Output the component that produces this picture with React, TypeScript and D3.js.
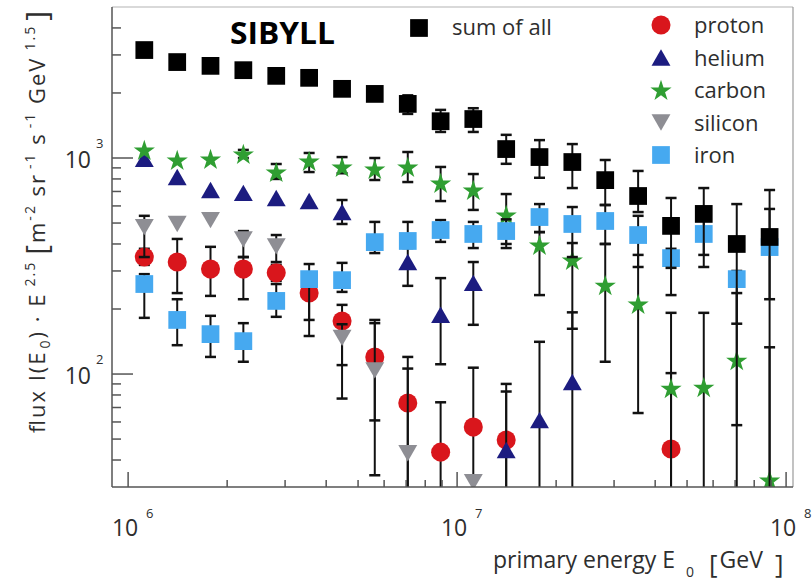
import React from 'react';
import * as d3 from 'd3';

// bin centres (GeV), lg E = 6.05 ... 7.95
const energy = [
  1.12e6, 1.41e6, 1.78e6, 2.24e6, 2.82e6, 3.55e6, 4.47e6, 5.62e6, 7.08e6, 8.91e6,
  1.12e7, 1.41e7, 1.78e7, 2.24e7, 2.82e7, 3.55e7, 4.47e7, 5.62e7, 7.08e7, 8.91e7,
];

// flux * E^2.5; null = no point shown
const proton = [348, 330, 306, 306, 294, 237, 176, 120, 73.4, 43.5, 56.8, 49.5, null, null, null, null, 45, null, null, null];
const protonLo = [320, 237, 230, 222, 270, 150, 110, 61, 20, 20, 20, 20, null, null, null, null, 20, null, null, null];
const protonHi = [380, 422, 388, 348, 320, 262, 209, 172, 106, 74, 107, 83, null, null, null, null, 101, null, null, null];

const helium = [990, 817, 711, 689, 653, 632, 562, null, 330, 188, 264, 44.5, 61.2, 91.8, null, null, null, null, null, null];
const heliumLo = [null, null, null, null, null, null, 495, null, 256, 111, 169, 20, 20, 20, null, null, null, null, null, null];
const heliumHi = [null, null, null, null, null, null, 639, null, 400, 278, 330, 90, 141, 193, null, null, null, null, null, null];

const carbon = [1089, 979, 989, 1044, 861, 969, 909, 889, 909, 766, 711, 545, 396, 337, 258, 211, 86, 87, 116, 32.3];
const carbonLo = [null, null, null, 1000, 800, 861, 850, 791, 774, 632, 575, 383, 232, 162, 114, 66, 20, 20, 58, 20];
const carbonHi = [null, null, null, 1090, 938, 1055, 1010, 1000, 1066, 909, 843, 681, 454, 404, 400, 356, 192, 192, 237, 133];

const silicon = [479, 495, 516, 420, 390, null, 147, 104, 43, null, 31.6, null, null, null, null, null, null, null, null, null];
const siliconLo = [348, null, null, 348, 330, null, 77, 34, 20, null, null, null, null, null, null, null, null, null, null, null];
const siliconHi = [540, null, null, 459, 440, null, 170, 178, 120, null, null, null, null, null, null, null, null, null, null, null];

const iron = [261, 178, 153, 142, 218, 275, 272, 408, 413, 464, 445, 459, 533, 495, 511, 440, 344, 445, 275, 387];
const ironLo = [182, 136, 120, 114, 184, 178, 240, 363, 383, 409, 383, 400, 454, 348, 400, 313, 232, 356, 171, 222];
const ironHi = [290, 222, 186, 172, 261, 323, 327, 506, 506, 516, 506, 520, 612, 593, 606, 540, 380, 540, 300, 581];

const sumOfAll = [3160, 2780, 2670, 2550, 2400, 2350, 2090, 1980, 1780, 1480, 1515, 1100, 1010, 958, 790, 667, 485, 551, 400, 431];
const sumLo = [null, null, null, null, null, null, null, null, 1600, 1320, 1320, 940, 810, 726, 606, 562, 310, 313, 20, 20];
const sumHi = [null, null, null, null, null, null, null, null, 1950, 1670, 1700, 1280, 1210, 1160, 979, 871, 653, 726, 612, 711];

const elementNames = ['proton', 'helium', 'carbon', 'silicon', 'iron'];
const sumName = 'sum of all';
const modelName = 'SIBYLL';

const width = 812;
const height = 581;
const plot = { left: 112, right: 793, top: 7, bottom: 487 };

const x = d3.scaleLog().domain([10 ** 5.951, 10 ** 8.021]).range([plot.left, plot.right]);
const y = d3.scaleLog().domain([30, 5000]).range([plot.bottom, plot.top]);

const font = "'Open Sans', 'DejaVu Sans', sans-serif";
const ink = '#2e2e2e';

const markers = {
  circle: { type: d3.symbolCircle, size: 285, rotate: 0, dy: 0 },
  triangle: { type: d3.symbolTriangle, size: 155, rotate: 0, dy: 2.7 },
  star: { type: d3.symbolStar, size: 140, rotate: 0, dy: 1 },
  triangleDown: { type: d3.symbolTriangle, size: 155, rotate: 180, dy: -2.7 },
  square: { type: d3.symbolSquare, size: 315, rotate: 0, dy: 0 },
};

const series = [
  { name: elementNames[0], color: '#d9161c', marker: 'circle', values: proton, lo: protonLo, hi: protonHi },
  { name: elementNames[1], color: '#1c1c80', marker: 'triangle', values: helium, lo: heliumLo, hi: heliumHi },
  { name: elementNames[2], color: '#2f9e32', marker: 'star', values: carbon, lo: carbonLo, hi: carbonHi },
  { name: elementNames[3], color: '#8e8e94', marker: 'triangleDown', values: silicon, lo: siliconLo, hi: siliconHi },
  { name: elementNames[4], color: '#46a9f0', marker: 'square', values: iron, lo: ironLo, hi: ironHi },
];
const sumSeries = { name: sumName, color: '#000000', marker: 'square', values: sumOfAll, lo: sumLo, hi: sumHi };

function Marker({ kind, color, cx, cy }) {
  const m = markers[kind];
  const d = d3.symbol().type(m.type).size(m.size)();
  return (
    <path
      d={d}
      fill={color}
      transform={`translate(${cx},${cy + m.dy}) rotate(${m.rotate})`}
    />
  );
}

function Series({ s }) {
  const cap = 5.5;
  return (
    <g>
      {s.values.map((v, i) => {
        if (v == null || s.lo[i] == null) return null;
        const cx = x(energy[i]);
        const y0 = y(s.lo[i]);
        const y1 = y(s.hi[i]);
        return (
          <g key={i} stroke="#111" fill="none">
            <line x1={cx} x2={cx} y1={y0} y2={y1} strokeWidth={2} />
            <line x1={cx - cap} x2={cx + cap} y1={y0} y2={y0} strokeWidth={2.5} />
            <line x1={cx - cap} x2={cx + cap} y1={y1} y2={y1} strokeWidth={2.5} />
          </g>
        );
      })}
      {s.values.map((v, i) =>
        v == null ? null : (
          <Marker key={i} kind={s.marker} color={s.color} cx={x(energy[i])} cy={y(v)} />
        ),
      )}
    </g>
  );
}

const isDecade = (t) => Math.abs(Math.log10(t) - Math.round(Math.log10(t))) < 1e-6;

export default function App() {
  const xTicks = x.ticks().filter((t) => x(t) - plot.left > 3 && plot.right - x(t) > 3);
  const yTicks = y.ticks().filter((t) => plot.bottom - y(t) > 3 && y(t) - plot.top > 3);

  return (
    <div style={{ position: 'absolute', left: 0, top: 0 }}>
      <svg width={width} height={height} style={{ display: 'block', background: '#fff' }}>
        <defs>
          <clipPath id="plot-area">
            <rect x={plot.left} y={plot.top} width={plot.right - plot.left} height={plot.bottom - plot.top} />
          </clipPath>
        </defs>

        {/* frame */}
        <line x1={plot.left} x2={plot.right} y1={plot.top} y2={plot.top} stroke="#b4b4b4" strokeWidth={1.2} />
        <line x1={plot.right} x2={plot.right} y1={plot.top} y2={plot.bottom} stroke="#9a9a9a" strokeWidth={1.2} />

        {/* data */}
        <g clipPath="url(#plot-area)">
          {series.map((s) => (
            <Series key={s.name} s={s} />
          ))}
          <Series s={sumSeries} />
        </g>

        {/* axes */}
        <g stroke="#555" strokeWidth={1.5}>
          <line x1={plot.left} x2={plot.right} y1={plot.bottom} y2={plot.bottom} />
          <line x1={plot.left} x2={plot.left} y1={plot.top} y2={plot.bottom} />
          {xTicks.map((t) => (
            <line key={t} x1={x(t)} x2={x(t)} y1={plot.bottom} y2={plot.bottom - (isDecade(t) ? 15 : 7)} />
          ))}
          {yTicks.map((t) => (
            <line key={t} x1={plot.left} x2={plot.left + (isDecade(t) ? 21 : 9)} y1={y(t)} y2={y(t)} />
          ))}
        </g>

        {/* tick labels */}
        <g fontFamily={font} fill={ink}>
          {xTicks.filter(isDecade).map((t) => (
            <g key={t}>
              <text x={x(t) - 3} y={536} fontSize={23} textAnchor="middle">10</text>
              <text x={x(t) + 18} y={518} fontSize={13}>{Math.round(Math.log10(t))}</text>
            </g>
          ))}
          {yTicks.filter(isDecade).map((t) => (
            <g key={t}>
              <text x={91} y={y(t) + 10} fontSize={23} textAnchor="end">10</text>
              <text x={96} y={y(t) - 10} fontSize={13}>{Math.round(Math.log10(t))}</text>
            </g>
          ))}
        </g>

        {/* x axis title */}
        <g fontFamily={font} fill={ink}>
          <text x={493} y={568} fontSize={23} textLength={182} lengthAdjust="spacing">primary energy E</text>
          <text x={686} y={577} fontSize={14}>0</text>
          <text x={709} y={568} fontSize={23}>
            <tspan fontSize={26} dy={5}>[</tspan>
            <tspan dx={2} dy={-5}>GeV</tspan>
            <tspan dx={12} dy={5} fontSize={26}>]</tspan>
          </text>
        </g>

        {/* y axis title */}
        <text
          transform="rotate(-90)"
          x={-222}
          y={45}
          textAnchor="middle"
          fontFamily={font}
          fontSize={22}
          fill={ink}
          textLength={422}
          lengthAdjust="spacing"
        >
          flux I(E
          <tspan dy={5} fontSize={14} dx={2}>0</tspan>
          <tspan dy={-5}>) · E</tspan>
          <tspan dy={-10} dx={6} fontSize={14}>2.5</tspan>
          <tspan dy={12} dx={6} fontSize={30}>[</tspan>
          <tspan dy={-2}>m</tspan>
          <tspan dy={-10} fontSize={14}>-2</tspan>
          <tspan dy={10}> sr</tspan>
          <tspan dy={-10} dx={4} fontSize={14}>-1</tspan>
          <tspan dy={10}> s</tspan>
          <tspan dy={-10} dx={4} fontSize={14}>-1</tspan>
          <tspan dy={10}> GeV</tspan>
          <tspan dy={-10} dx={6} fontSize={14}>1.5</tspan>
          <tspan dy={12} dx={4} fontSize={30}>]</tspan>
        </text>

        {/* model label */}
        <text x={230} y={44} fontFamily={font} fontSize={31} fontWeight="bold" fill="#000" textLength={105} lengthAdjust="spacingAndGlyphs">
          {modelName}
        </text>

        {/* legends */}
        <g fontFamily={font} fontSize={22} fill={ink}>
          <Marker kind={sumSeries.marker} color={sumSeries.color} cx={419} cy={28} />
          <text x={452} y={35}>{sumSeries.name}</text>
          {series.map((s, i) => (
            <g key={s.name}>
              <Marker kind={s.marker} color={s.color} cx={661} cy={25 + i * 32.5} />
              <text x={694} y={33 + i * 32.5}>{s.name}</text>
            </g>
          ))}
        </g>
      </svg>
    </div>
  );
}
